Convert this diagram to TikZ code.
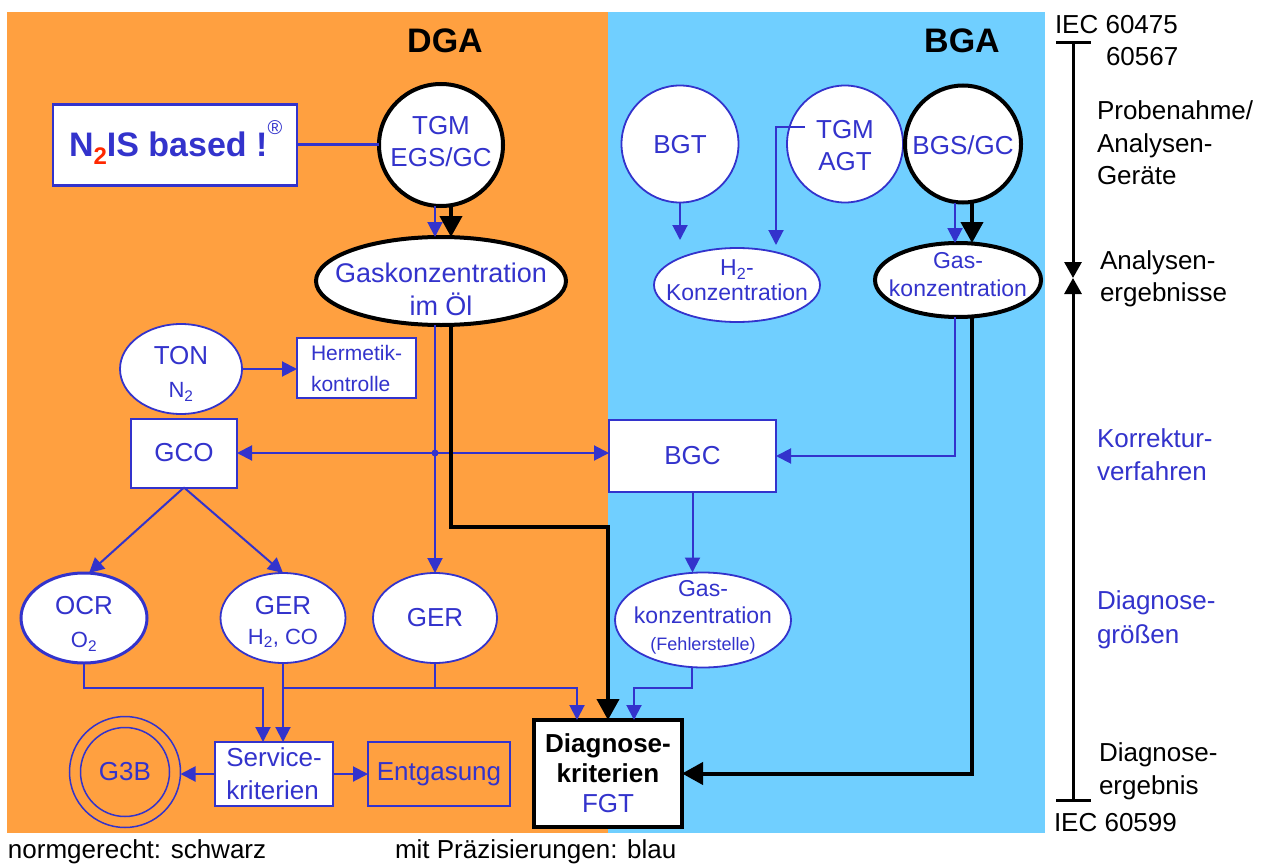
\documentclass[tikz,border=0pt]{standalone}
\usepackage{fontspec}
\setmainfont{Liberation Sans}
\usetikzlibrary{shapes.geometric,arrows.meta,calc}
\definecolor{org}{RGB}{255,160,64}
\definecolor{sky}{RGB}{112,207,255}
\definecolor{tb}{RGB}{51,51,204}
\definecolor{nred}{RGB}{255,40,0}
\begin{document}
\begin{tikzpicture}[x=1pt,y=-1pt,
  every node/.style={font=\fontsize{26}{32}\selectfont, inner sep=0pt, outer sep=0pt},
  txt/.style={text=tb, align=center},
  bell/.style={ellipse, draw=tb, line width=1.8pt, fill=white},
  kell/.style={ellipse, draw=black, line width=4pt, fill=white},
  bbox/.style={rectangle, draw=tb, line width=2pt, fill=white},
  bl/.style={draw=tb, line width=2pt},
  ba/.style={draw=tb, line width=2pt, -{Triangle[length=15pt,width=15pt]}},
  bab/.style={draw=tb, line width=2pt, {Triangle[length=15pt,width=15pt]}-{Triangle[length=15pt,width=15pt]}},
  ka/.style={draw=black, line width=4pt, -{Triangle[length=21pt,width=22pt]}},
  axa/.style={draw=black, line width=3pt, -{Triangle[length=16pt,width=17pt]}},
  lab/.style={anchor=west, align=left},
]
\fill[white] (0,0) rectangle (1274,864);
\useasboundingbox (0,0) rectangle (1274,864);
\fill[org] (7,12) rectangle (608,833);
\fill[sky] (608,12) rectangle (1045,833);

% titles
\node[font=\fontsize{34}{40}\selectfont\bfseries] (dga) at (445,41) {DGA};
\node[font=\fontsize{34}{40}\selectfont\bfseries] (bga) at (962,41) {BGA};

% DGA side
\node[bbox, line width=2.5pt, minimum width=244pt, minimum height=81pt] (n2is) at (175,145) {};
\node[anchor=base west, text=tb, font=\fontsize{34}{40}\selectfont\bfseries] (n2ist) at (69,157)
  {N\raisebox{-8pt}{\fontsize{24}{24}\selectfont\color{nred}2}IS based !\raisebox{22pt}{\fontsize{20}{20}\selectfont\mdseries ®}};
\node[kell, minimum width=124pt, minimum height=122pt] (tgm) at (441,145) {};
\node[txt] (tgmt) at (441,142) {TGM\\EGS/GC};
\draw[bl, line width=3pt] (n2is.east) -- (tgm.west);

\node[kell, minimum width=250pt, minimum height=88pt] (gk) at (441,281) {};
\node[txt, font=\fontsize{27}{33}\selectfont] (gkt) at (441,289) {Gaskonzentration\\im Öl};
\draw[ba] ([xshift=-6pt]tgm.south) -- ([xshift=-6pt]gk.north);
\draw[ka] ([xshift=10pt]tgm.south) -- ([xshift=10pt]gk.north);

\node[bell, minimum width=122pt, minimum height=90pt] (ton) at (181,369) {};
\node[txt] (tont) at (181,374) {TON\\[1pt]{\fontsize{22}{26}\selectfont N\textsubscript{2}}};
\node[bbox, minimum width=119pt, minimum height=60pt, align=left, text=tb, font=\fontsize{21}{31}\selectfont] (herm) at (356.5,368) {Hermetik-\\kontrolle};
\draw[ba] (ton.east) -- (ton.east -| herm.west);

\node[bbox, minimum width=106pt, minimum height=69pt, text=tb] (gco) at (184,453) {GCO};
\node[bbox, minimum width=167pt, minimum height=72pt, text=tb] (bgc) at (692.5,456) {BGC};
\coordinate (jd) at (435,453);
\draw[bab] (gco.east) -- (gco.east -| bgc.west);
\fill[tb] (jd) circle (3.5pt);

\node[bell, line width=3pt, minimum width=126pt, minimum height=90pt] (ocr) at (84,618) {};
\node[txt] (ocrt) at (84,624) {OCR\\[1pt]{\fontsize{22}{26}\selectfont O\textsubscript{2}}};
\node[bell, minimum width=125pt, minimum height=90pt] (ger2) at (283,618) {};
\node[txt] (ger2t) at (283,622) {GER\\[-2pt]{\fontsize{22}{26}\selectfont H\textsubscript{2}, CO}};
\node[bell, minimum width=124pt, minimum height=90pt] (ger) at (435,618) {};
\node[txt] (gert) at (435,618) {GER};

\draw[ba] (gco.south) -- ([xshift=5pt]ocr.north);
\draw[ba] (gco.south) -- (ger2.north);
\draw[ba] ([xshift=-6pt]gk.south) -- (ger.north);

\node[bbox, minimum width=118pt, minimum height=64pt, align=left, text=tb, font=\fontsize{26}{33}\selectfont] (serv) at (274,774) {Service-\\kriterien};
\node[bbox, fill=none, minimum width=142pt, minimum height=64pt, text=tb] (entg) at (439,774) {Entgasung};
\node[circle, draw=tb, line width=1.5pt, minimum size=111pt] (g3b) at (125,772) {};
\node[circle, draw=tb, line width=1.5pt, minimum size=89pt] (g3bi) at (125,772) {};
\node[txt] (g3bt) at (125,772) {G3B};
\draw[ba] (serv.west) -- (serv.west -| g3b.east);
\draw[ba] (serv.east) -- (entg.west);

\node[rectangle, draw=black, line width=4pt, fill=white, minimum width=148pt, minimum height=107pt, align=center, font=\fontsize{26}{30}\selectfont] (diag) at (608,773.5) {\textbf{Diagnose-}\\\textbf{kriterien}\\\textcolor{tb}{FGT}};

\coordinate (j1) at (283,688);
\coordinate (j2) at (577,688);
\draw[ba] (ocr.south) -- ++(0,25) -| ([xshift=-11pt]serv.north);
\draw[ba] (ger2.south) -- (ger2.south |- serv.north);
\draw[bl] (ger.south) -- (ger.south |- j1);
\draw[ba] (j1) -- (j2) -- (j2 |- diag.north);

% BGA side
\node[bell, minimum width=117pt, minimum height=117pt] (bgt) at (680,144) {};
\node[txt] (bgtt) at (680,145) {BGT};
\node[bell, minimum width=116pt, minimum height=117pt] (tgma) at (845,144) {};
\node[txt] (tgmat) at (845,146) {TGM\\AGT};
\node[kell, minimum width=116pt, minimum height=117pt] (bgs) at (963,144) {};
\node[txt] (bgst) at (963,145) {BGS/GC};

\node[bell, minimum width=166pt, minimum height=74pt] (h2k) at (737,285) {};
\node[txt, font=\fontsize{23}{25}\selectfont] (h2kt) at (737,280) {H\textsubscript{2}-\\Konzentration};
\node[kell, minimum width=166pt, minimum height=74pt] (gkb) at (958,280) {};
\node[txt, font=\fontsize{23}{28}\selectfont] (gkbt) at (958,275) {Gas-\\konzentration};

\coordinate (tgmin) at (805,127);
\draw[ba, shorten >=8pt] (bgt.south) -- (bgt.south |- h2k.north);
\draw[ba, shorten >=3pt] (tgmin) -| ([xshift=39pt]h2k.north);
\draw[ba] ([xshift=-8pt]bgs.south) -- ([xshift=-8pt]bgs.south |- gkb.north);
\draw[ka] ([xshift=9pt]bgs.south) -- ([xshift=9pt]bgs.south |- gkb.north);

\node[bell, minimum width=176pt, minimum height=95pt] (gkf) at (703,620) {};
\node[txt, font=\fontsize{23}{27}\selectfont] (gkft) at (703,617) {Gas-\\konzentration\\{\fontsize{18}{20}\selectfont(Fehlerstelle)}};

\draw[ba] ([xshift=-3pt]gkb.south) |- (bgc.east);
\draw[ba] (bgc.south) -- (bgc.south |- gkf.north);
\draw[ba] ([xshift=-11pt]gkf.south) -- ++(0,20) -| ([xshift=26pt]diag.north);

% black thick paths
\coordinate (kc) at (608,527);
\draw[ka] ([xshift=10pt]gk.south) |- (kc) -- (diag.north);
\draw[ka] ([xshift=14pt]gkb.south) |- (diag.east);

% right axis
\coordinate (ax1) at (1073,43);
\coordinate (axm) at (1073,278);
\coordinate (ax2) at (1073,800);
\draw[line width=3pt] (1056,43) -- (1091,43);
\draw[line width=3pt] (1056,800) -- (1091,800);
\draw[axa] (ax1) -- (axm);
\draw[axa] (ax2) -- (axm);

\node[lab] (iec1) at (1055,25) {IEC 60475};
\node[lab] (iec2) at (1106,57) {60567};
\node[lab, font=\fontsize{26}{32.5}\selectfont] (pr) at (1097,143) {Probenahme/\\Analysen-\\Geräte};
\node[lab] (ae) at (1100,279) {Analysen-\\ergebnisse};
\node[lab, text=tb, font=\fontsize{26}{33}\selectfont] (kv) at (1097,455) {Korrektur-\\verfahren};
\node[lab, text=tb, font=\fontsize{26}{34}\selectfont] (dg) at (1097,620) {Diagnose-\\größen};
\node[lab, font=\fontsize{26}{33}\selectfont] (de) at (1099,771) {Diagnose-\\ergebnis};
\node[lab] (iec3) at (1054,823) {IEC 60599};

% captions
\node[anchor=west] (cap1) at (8,852) {normgerecht: schwarz};
\node[anchor=west] (cap2) at (395,852) {mit Präzisierungen: blau};
\end{tikzpicture}
\end{document}
